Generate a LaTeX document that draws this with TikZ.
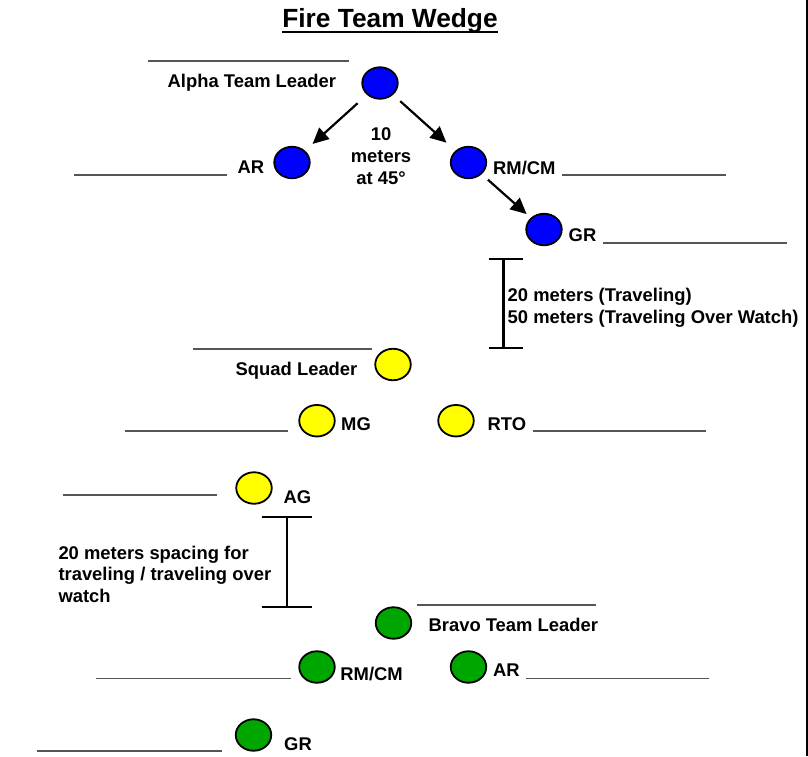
\documentclass[tikz,border=0pt]{standalone}
\usepackage{fontspec}
\setmainfont{Liberation Sans}
\usetikzlibrary{shapes.geometric,arrows.meta}
\definecolor{teamblue}{RGB}{0,0,255}
\definecolor{teamyellow}{RGB}{255,255,0}
\definecolor{teamgreen}{RGB}{0,166,0}
\definecolor{blankgray}{RGB}{85,85,85}
\newcommand\mlinesl[1]{\vtop{\baselineskip=21.5pt\halign{##\hfil\cr#1\crcr}}}
\newcommand\mlinesc[1]{\vtop{\baselineskip=22pt\halign{\hfil##\hfil\cr#1\crcr}}}
\begin{document}
\begin{tikzpicture}[x=1pt,y=-1pt,
  member/.style={ellipse,draw=black,line width=1.8pt,minimum width=35.5pt,minimum height=31.5pt,inner sep=0pt},
  lbl/.style={anchor=base west,inner sep=0pt,font=\fontsize{18.4pt}{22pt}\selectfont\bfseries},
  blank/.style={draw=blankgray,line width=1.1pt},
  gap/.style={draw=black,line width=2.2pt},
  pace/.style={draw=black,line width=2.2pt,-{Triangle[length=16pt,width=15pt]}}
]
\useasboundingbox (0,0) rectangle (808,756);
\fill[white] (0,0) rectangle (808,756);
\draw[line width=2pt] (807,0) -- (807,756);

% title
\node[anchor=base,inner sep=0pt,font=\fontsize{26.3pt}{30pt}\selectfont\bfseries] (title) at (390,27) {Fire Team Wedge};
\draw[line width=2.2pt] ([yshift=-5pt]title.base west) -- ([yshift=-5pt]title.base east);

% members
\node[member,fill=teamblue] (alpha) at (380,83) {};
\node[member,fill=teamblue] (ar) at (292,162.5) {};
\node[member,fill=teamblue] (rmcm) at (468.5,162.5) {};
\node[member,fill=teamblue] (gr) at (544,229.5) {};
\node[member,fill=teamyellow] (sl) at (393,364.5) {};
\node[member,fill=teamyellow] (mg) at (317,420.7) {};
\node[member,fill=teamyellow] (rto) at (456,420.7) {};
\node[member,fill=teamyellow] (ag) at (254,488) {};
\node[member,fill=teamgreen] (btl) at (393.5,623) {};
\node[member,fill=teamgreen] (brmcm) at (317,667) {};
\node[member,fill=teamgreen] (bar) at (468.5,667) {};
\node[member,fill=teamgreen] (bgr) at (253.5,735) {};

% labels
\node[lbl] (alphalbl) at (167.5,87.3) {Alpha Team Leader};
\node[lbl] (arlbl) at (237.5,173.5) {AR};
\node[lbl] (rmcmlbl) at (493,174) {RM/CM};
\node[lbl,anchor=base] (ten) at (381,140.7) {\mlinesc{10\cr meters\cr at 45°}};
\node[lbl] (grlbl) at (568.5,241.7) {GR};
\node[lbl] (travel) at (507.5,301.7) {\mlinesl{20 meters (Traveling)\cr 50 meters (Traveling Over Watch)}};
\node[lbl] (sllbl) at (235.5,375.7) {Squad Leader};
\node[lbl] (mglbl) at (341,430) {MG};
\node[lbl] (rtolbl) at (487.5,430) {RTO};
\node[lbl] (aglbl) at (283.3,503.3) {AG};
\node[lbl] (spacing) at (58.3,559.3) {\mlinesl{20 meters spacing for\cr traveling / traveling over\cr watch}};
\node[lbl] (btllbl) at (428.4,631.7) {Bravo Team Leader};
\node[lbl] (brmcmlbl) at (340.2,680) {RM/CM};
\node[lbl] (barlbl) at (493,676.7) {AR};
\node[lbl] (bgrlbl) at (284,750) {GR};

% blanks
\draw[blank] (148,61) -- (349,61);
\draw[blank] (74,175) -- (227,175);
\draw[blank] (562,175) -- (726,175);
\draw[blank] (603,243) -- (787,243);
\draw[blank] (193,349) -- (372,349);
\draw[blank] (125,431) -- (288,431);
\draw[blank] (533,431) -- (706,431);
\draw[blank] (63,495) -- (217,495);
\draw[blank] (417,605) -- (596,605);
\draw[blank] (96,678.5) -- (290.5,678.5);
\draw[blank] (526,678.5) -- (709,678.5);
\draw[blank] (37,751) -- (222,751);

% arrows
\draw[pace,shorten <=12.5pt,shorten >=10pt] (alpha) -- (ar);
\draw[pace,shorten <=9.5pt,shorten >=12pt] (alpha) -- (rmcm);
\draw[pace,shorten <=8.3pt,shorten >=5.6pt] (rmcm) -- (gr);

% spacing brackets
\coordinate (gapatop) at (503.5,259);
\coordinate (gapabot) at (503.5,348.3);
\draw[gap] (gapatop) -- (gapabot);
\draw[gap] ([xshift=-15pt]gapatop) -- ([xshift=19pt]gapatop);
\draw[gap] ([xshift=-15pt]gapabot) -- ([xshift=19pt]gapabot);
\coordinate (gapbtop) at (286.7,516.7);
\coordinate (gapbbot) at (286.7,606.7);
\draw[gap] (gapbtop) -- (gapbbot);
\draw[gap] ([xshift=-25pt]gapbtop) -- ([xshift=25pt]gapbtop);
\draw[gap] ([xshift=-25pt]gapbbot) -- ([xshift=25pt]gapbbot);
\end{tikzpicture}
\end{document}
